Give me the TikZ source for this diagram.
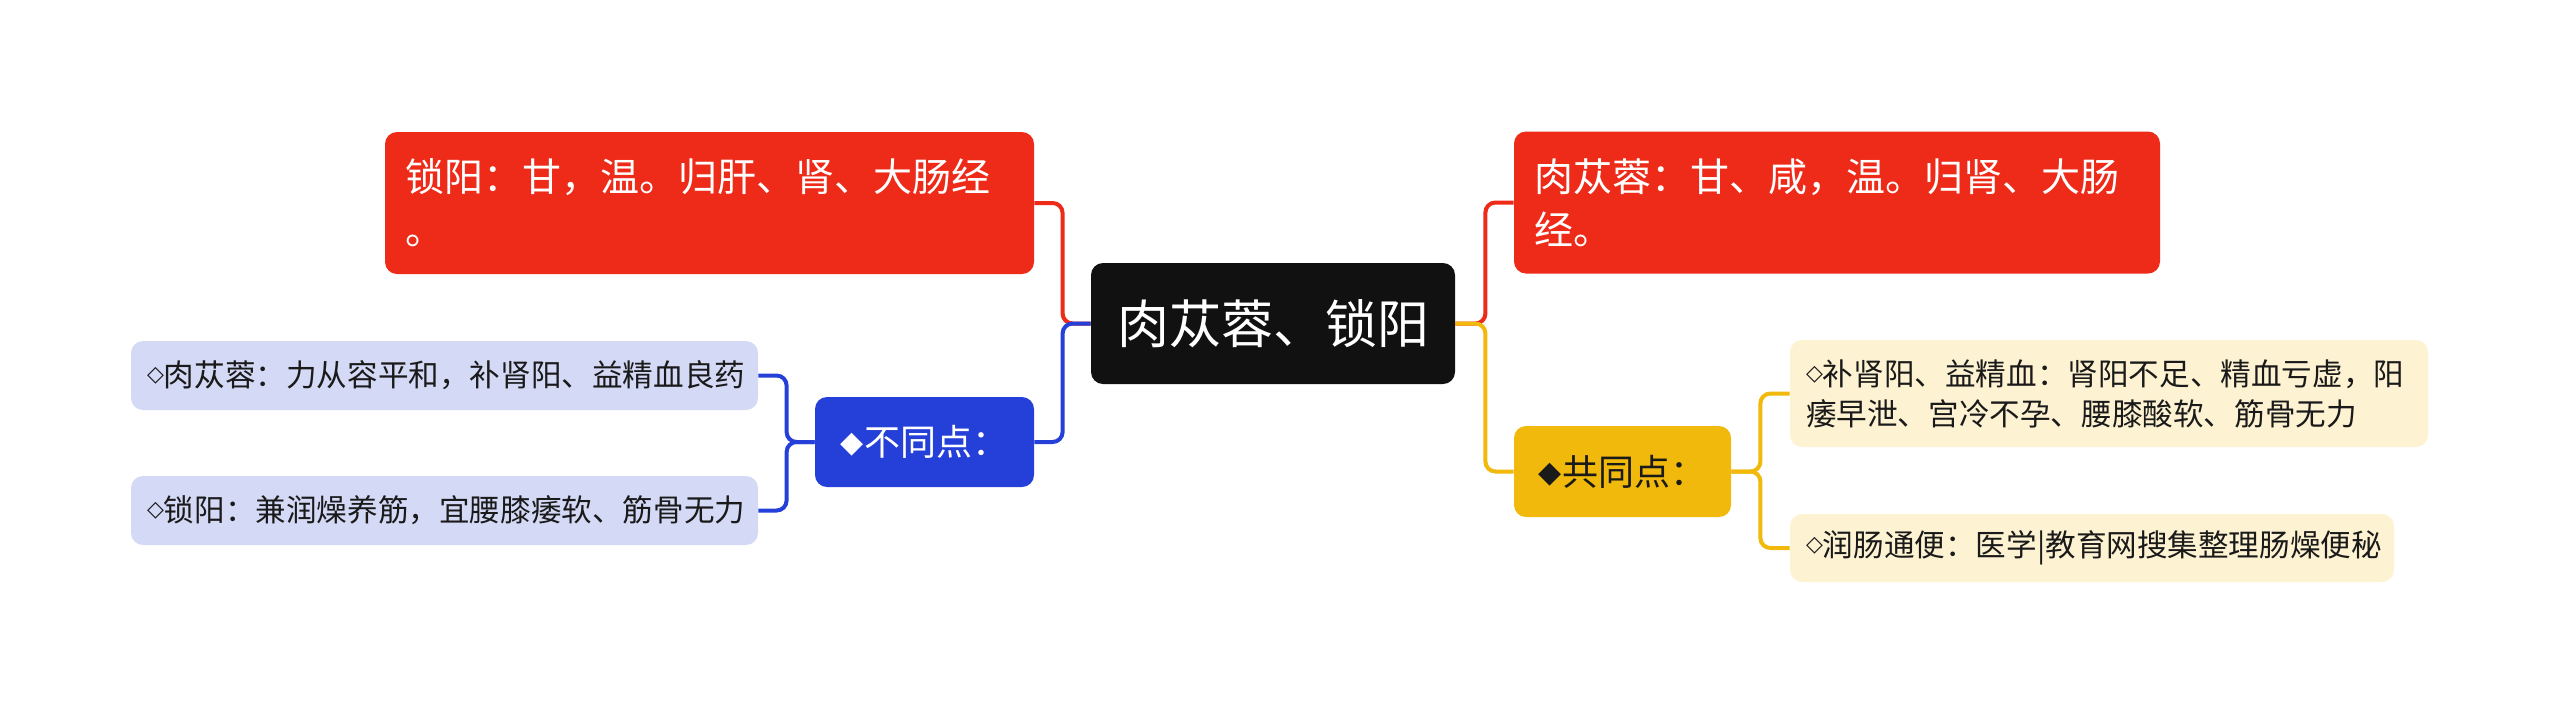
\documentclass[tikz,border=0pt]{standalone}
\usepackage{fontspec}
\setmainfont{Noto Sans CJK SC}
\newfontfamily\symfont{DejaVu Sans}
\usepackage{tikz}
\usetikzlibrary{positioning,calc}
\usepackage{xcolor}

\definecolor{mmred}{HTML}{EE2A19}
\definecolor{mmblue}{HTML}{2440D8}
\definecolor{mmyellow}{HTML}{F0B90B}
\definecolor{mmblack}{HTML}{111111}
\definecolor{mmlblue}{HTML}{D4D9F6}
\definecolor{mmlyellow}{HTML}{FDF2D2}
\definecolor{mmtext}{HTML}{1A1A1A}

\newcommand{\wdia}{\raisebox{2.5pt}{\symfont\fontsize{11pt}{11pt}\selectfont ◇}}
\newcommand{\bdia}{\raisebox{1.5pt}{\symfont\fontsize{15pt}{15pt}\selectfont ◆}}

\begin{document}
\begin{tikzpicture}[
  x=0.5pt,y=-0.5pt,
  rootbox/.style={rectangle,rounded corners=6pt,fill=mmblack,text=white,
                  minimum width=182pt,minimum height=60.5pt,
                  font=\fontsize{26pt}{30pt}\selectfont},
  topbox/.style={rectangle,rounded corners=6pt,fill=mmred,text=white,
                 inner xsep=10pt,minimum height=71pt,align=left,
                 font=\fontsize{19.5pt}{26.5pt}\selectfont},
  diffbox/.style={rectangle,rounded corners=6pt,fill=mmblue,text=white,
                  minimum width=109.5pt,minimum height=45pt,
                  font=\fontsize{18pt}{22pt}\selectfont},
  samebox/.style={rectangle,rounded corners=6pt,fill=mmyellow,text=mmtext,
                  minimum width=108.5pt,minimum height=45.5pt,
                  font=\fontsize{18pt}{22pt}\selectfont},
  leaf/.style={rectangle,rounded corners=6pt,inner xsep=8pt,align=left,text=mmtext,
               font=\fontsize{15.3pt}{20pt}\selectfont},
  lblue/.style={leaf,fill=mmlblue},
  lyellow/.style={leaf,fill=mmlyellow},
  link/.style={line width=2pt,rounded corners=5pt}
]
\useasboundingbox (0,0) rectangle (2560,714);

% Root
\node[rootbox] (root) at (1273,323.5) {肉苁蓉、锁阳};

% Left side
\node[topbox,text width=304.5pt] (redL) at (709.5,203) {锁阳：甘，温。归肝、肾、大肠经\\。};
\node[diffbox] (diff) at (924.5,442) {\bdia 不同点：};
\node[lblue,text width=297.5pt,minimum height=34.5pt] (dL1) at (444.5,375.5) {\wdia 肉苁蓉：力从容平和，补肾阳、益精血良药};
\node[lblue,text width=297.5pt,minimum height=34.5pt] (dL2) at (444.5,510.5) {\wdia 锁阳：兼润燥养筋，宜腰膝痿软、筋骨无力};

% Right side
\node[topbox,text width=303pt] (redR) at (1837,202.5) {肉苁蓉：甘、咸，温。归肾、大肠\\经。};
\node[samebox] (same) at (1622.5,471.5) {\bdia 共同点：};
\node[lyellow,text width=303pt,minimum height=53.5pt] (sR1) at (2109,393.5) {\wdia 补肾阳、益精血：肾阳不足、精血亏虚，阳\\痿早泄、宫冷不孕、腰膝酸软、筋骨无力};
\node[lyellow,text width=286pt,minimum height=34pt] (sR2) at (2092,548) {\wdia 润肠通便：医学|教育网搜集整理肠燥便秘};

% Root links
\draw[link,mmred] (root.west) -- ++(-28,0) |- (redL.east);
\draw[link,mmblue] (root.west) -- ++(-28,0) |- (diff.east);
\draw[link,mmred] (root.east) -- ++(30,0) |- (redR.west);
\draw[link,mmyellow] (root.east) -- ++(30,0) |- (same.west);

% Leaf links
\draw[link,mmblue] (diff.west) -- ++(-28,0) |- (dL1.east);
\draw[link,mmblue] (diff.west) -- ++(-28,0) |- (dL2.east);
\draw[link,mmyellow] (same.east) -- ++(29,0) |- (sR1.west);
\draw[link,mmyellow] (same.east) -- ++(29,0) |- (sR2.west);

\end{tikzpicture}
\end{document}
